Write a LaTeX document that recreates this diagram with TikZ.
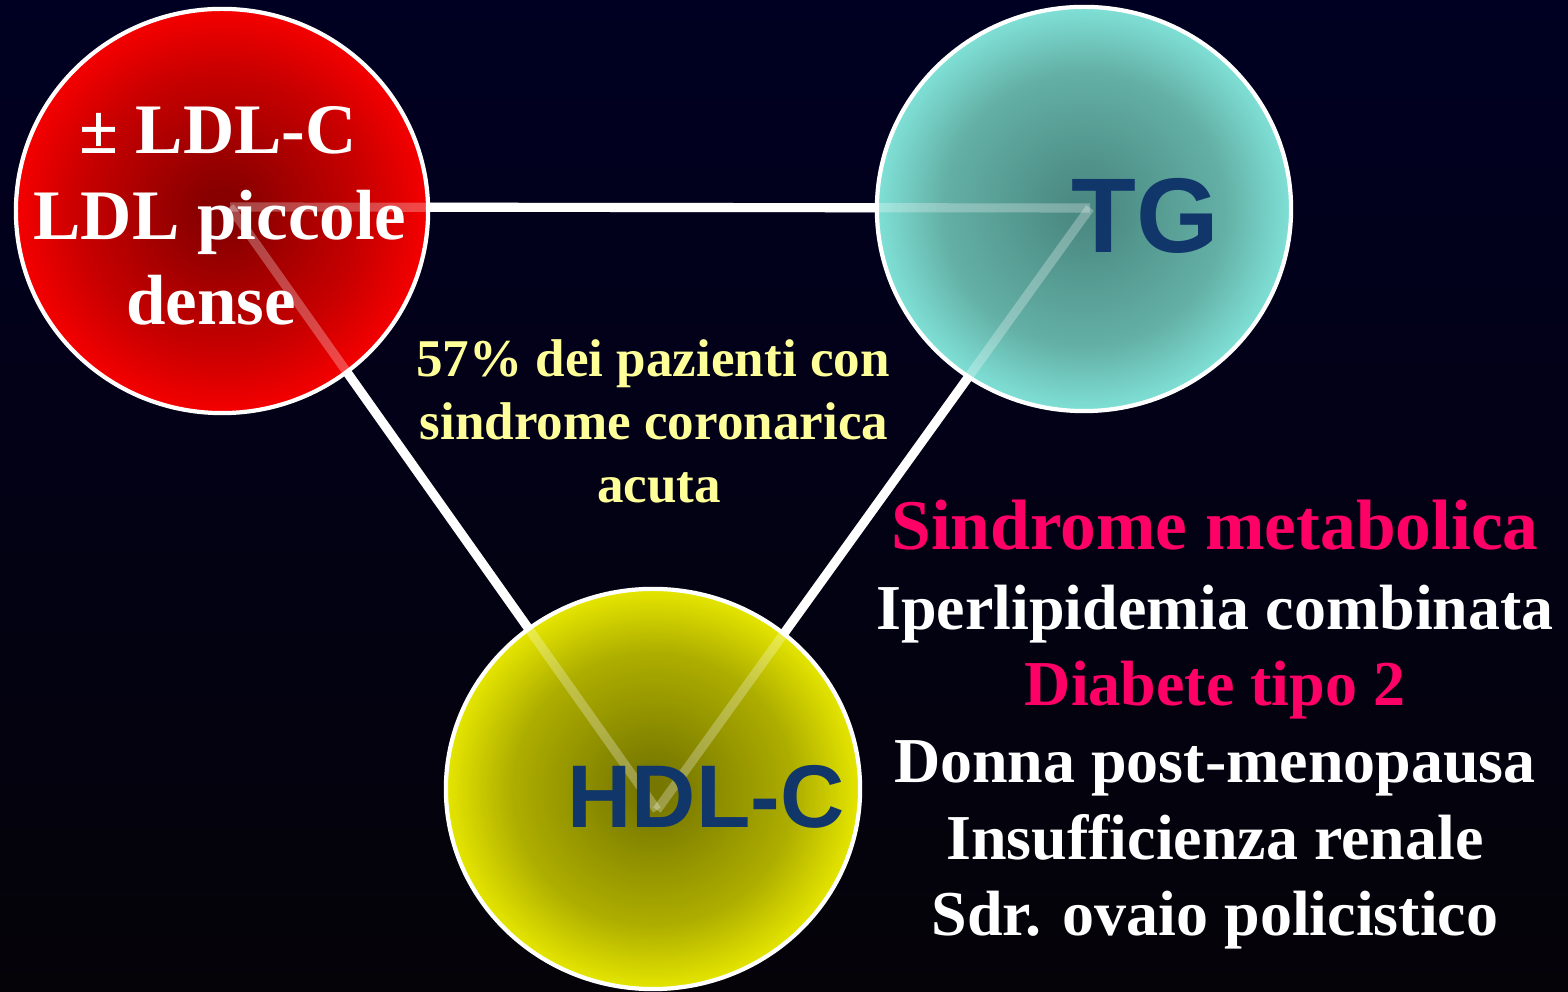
\documentclass[tikz,border=0pt]{standalone}
\usepackage{fontspec}
\setmainfont{Liberation Serif}
\newfontfamily\sansf{Liberation Sans}
\usetikzlibrary{shapes.geometric}
\pgfdeclareradialshading{redball}{\pgfpoint{0bp}{0bp}}{rgb(0bp)=(0.52,0,0); rgb(3bp)=(0.54,0,0); rgb(17bp)=(0.78,0,0); rgb(25bp)=(0.96,0,0); rgb(50bp)=(0.96,0,0)}
\pgfdeclareradialshading{tealball}{\pgfpoint{0bp}{0bp}}{rgb(0bp)=(0.29,0.53,0.51); rgb(3bp)=(0.30,0.55,0.52); rgb(17bp)=(0.39,0.69,0.65); rgb(25bp)=(0.50,0.88,0.84); rgb(50bp)=(0.50,0.88,0.84)}
\pgfdeclareradialshading{yelball}{\pgfpoint{0bp}{0bp}}{rgb(0bp)=(0.46,0.46,0); rgb(3bp)=(0.48,0.48,0); rgb(17bp)=(0.68,0.68,0); rgb(25bp)=(0.90,0.90,0); rgb(50bp)=(0.90,0.90,0)}
\definecolor{navytop}{RGB}{0,0,34}
\definecolor{navybot}{RGB}{5,3,8}
\definecolor{lblue}{RGB}{16,54,106}
\definecolor{pinkx}{RGB}{255,0,102}
\definecolor{paleyel}{RGB}{255,255,153}
\begin{document}
\begin{tikzpicture}[x=0.01cm,y=-0.01cm,
  ball/.style={ellipse, draw=white, line width=1.2pt, inner sep=0pt, shade, shading=#1},
  link/.style={white, line width=2.6pt},
  ghost/.style={white, opacity=0.28, line width=2.6pt},
  ldltxt/.style={anchor=base, text=white, font=\bfseries\fontsize{20.2pt}{24pt}\selectfont},
  captxt/.style={anchor=base, text=lblue, font=\sansf\bfseries\fontsize{#1}{36pt}\selectfont},
  midtxt/.style={anchor=base, text=paleyel, font=\bfseries\fontsize{15.1pt}{18pt}\selectfont},
  listtxt/.style={anchor=base, text=#1, font=\bfseries\fontsize{18.2pt}{22pt}\selectfont},
  headtxt/.style={anchor=base, text=pinkx, font=\bfseries\fontsize{20.3pt}{24pt}\selectfont}]
\useasboundingbox (0,0) rectangle (1568,992);
\shade[top color=navytop, bottom color=navybot] (0,0) rectangle (1568,992);
\coordinate (a) at (230,207);
\coordinate (b) at (1090,208);
\coordinate (c) at (657,810);
\draw[link] (a) -- (b);
\draw[link] (a) -- (c);
\draw[link] (b) -- (c);
\node[ball=redball, minimum width=4.12cm, minimum height=4.04cm] (ldl) at (222,211) {};
\node[ball=tealball, minimum width=4.14cm, minimum height=4.04cm] (tg) at (1084,209) {};
\node[ball=yelball, minimum width=4.14cm, minimum height=4.0cm] (hdl) at (653,789) {};
\draw[ghost] (a) -- (b);
\draw[ghost] (a) -- (c);
\draw[ghost] (b) -- (c);
\node[ldltxt] (l1) at (218,154) {± LDL-C};
\node[ldltxt] (l2) at (220,240) {LDL piccole};
\node[ldltxt] (l3) at (211,325) {dense};
\node[captxt=30.2pt] (tgl) at (1145,253) {TG};
\node[captxt=25.3pt] (hdll) at (706,828) {HDL-C};
\node[midtxt] (m1) at (653,377) {57\% dei pazienti con};
\node[midtxt] (m2) at (654,440) {sindrome coronarica};
\node[midtxt] (m3) at (659,503) {acuta};
\node[headtxt] (r1) at (1215,550) {Sindrome metabolica};
\node[listtxt=white] (r2) at (1215,630) {Iperlipidemia combinata};
\node[listtxt=pinkx] (r3) at (1215,706) {Diabete tipo 2};
\node[listtxt=white] (r4) at (1215,783) {Donna post-menopausa};
\node[listtxt=white] (r5) at (1215,860) {Insufficienza renale};
\node[listtxt=white] (r6) at (1215,936) {Sdr. ovaio policistico};
\end{tikzpicture}
\end{document}
